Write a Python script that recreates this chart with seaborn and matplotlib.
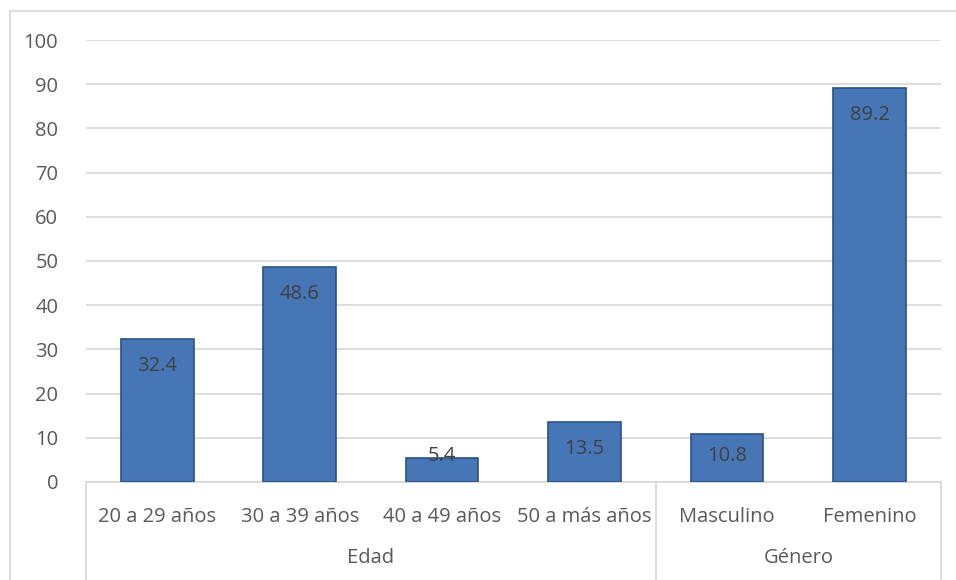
import numpy as np
import pandas as pd
import matplotlib
matplotlib.use("Agg")
import matplotlib.pyplot as plt
import matplotlib.transforms as mtransforms
from matplotlib.patches import Rectangle
import seaborn as sns

# data
categories = ['20 a 29 años', '30 a 39 años', '40 a 49 años', '50 a más años', 'Masculino', 'Femenino']
values = [32.4, 48.6, 5.4, 13.5, 10.8, 89.2]
groups = ['Edad', 'Edad', 'Edad', 'Edad', 'Género', 'Género']
group_names = ['Edad', 'Género']

df = pd.DataFrame({'categoria': categories, 'valor': values, 'grupo': groups})

sns.set_style('white')
plt.rcParams['font.family'] = ['Open Sans', 'DejaVu Sans']
text_color = '#404040'
fs = 14.5

fig = plt.figure(figsize=(9.56, 5.8), dpi=100)
ax = fig.add_axes([0.09, 0.169, 0.894, 0.762])

sns.barplot(data=df, x='categoria', y='valor', color='#4676B6', width=0.51,
            edgecolor='#2A5088', linewidth=1.2, saturation=1, ax=ax, zorder=3)

ax.set_ylim(0, 100)
ax.set_xlim(-0.5, len(categories) - 0.5)
ax.set_yticks(np.arange(0, 101, 10))
ax.yaxis.grid(True, color='#D9D9D9', linewidth=1.3, zorder=0)
ax.set_axisbelow(True)
for s in ['left', 'right', 'top']:
    ax.spines[s].set_visible(False)
ax.spines['bottom'].set_color('#D9D9D9')
ax.spines['bottom'].set_linewidth(1.3)
ax.tick_params(axis='y', length=0, pad=20, labelsize=fs, labelcolor='#595959')
ax.tick_params(axis='x', length=0, pad=18, labelsize=fs, labelcolor='#595959')
ax.set_xlabel('')
ax.set_ylabel('')

# value labels inside the top of each bar
for i, v in enumerate(values):
    y = max(v - 6.1, 5.9)
    ax.text(i, y, f'{v:.1f}', ha='center', va='center', fontsize=fs, color=text_color, zorder=4)

# group labels and separators below the axis
trans = mtransforms.blended_transform_factory(ax.transData, ax.transAxes)
idx = np.arange(len(categories))
for g in group_names:
    pos = idx[np.array(groups) == g]
    ax.text(pos.mean(), -0.173, g, transform=trans, ha='center', va='center',
            fontsize=fs, color='#595959')
bounds = [-0.5] + [i + 0.5 for i in range(len(groups) - 1) if groups[i] != groups[i + 1]] + [len(groups) - 0.5]
for b in bounds:
    ax.plot([b, b], [0, -0.25], transform=trans, color='#D9D9D9', linewidth=1.3, clip_on=False)

# outer chart border
fig.patches.append(Rectangle((10 / 956, -0.01), 1.0, 1 - 11 / 580 + 0.01, transform=fig.transFigure,
                             fill=False, edgecolor='#D9D9D9', linewidth=1.3))

fig.savefig('out.png', dpi=100, facecolor='white')
